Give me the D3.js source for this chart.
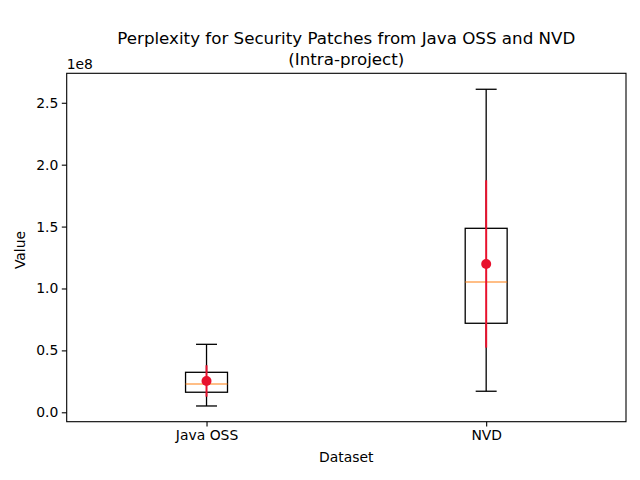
<!DOCTYPE html>
<html>
<head>
<meta charset="utf-8">
<script src="https://cdn.jsdelivr.net/npm/d3@7"></script>
<style>
  body { margin: 0; background: #fff; }
  svg { font-family: "DejaVu Sans", sans-serif; }
</style>
</head>
<body>
<svg id="chart" width="640" height="480"></svg>
<script>
// values in units of 1e8
const categories = ['Java OSS', 'NVD'];
const whiskerLow = [0.051, 0.170];
const q1 = [0.162, 0.719];
const median = [0.229, 1.052];
const q3 = [0.323, 1.486];
const whiskerHigh = [0.549, 2.609];
const means = [0.253, 1.198];
const errors = [0.127, 0.676];
const yTicks = [0.0, 0.5, 1.0, 1.5, 2.0, 2.5];

const margin = { left: 66.7, right: 626, top: 73.3, bottom: 421.7 };
const svg = d3.select('#chart');

const x = d3.scaleLinear().domain([0.5, 2.5]).range([margin.left, margin.right]);
const y = d3.scaleLinear().domain([-0.076, 2.738]).range([margin.bottom, margin.top]);

const boxW = x(0.15) - x(0);
const capW = x(0.075) - x(0);

// axes
const yAxis = svg.append('g')
    .attr('transform', `translate(${margin.left},0)`)
    .call(d3.axisLeft(y).tickValues(yTicks).tickFormat(d3.format('.1f')).tickSize(4.9).tickPadding(3.5));
const xAxis = svg.append('g')
    .attr('transform', `translate(0,${margin.bottom})`)
    .call(d3.axisBottom(x).tickValues([1, 2]).tickFormat((d, i) => categories[i]).tickSize(4.9).tickPadding(3.5));

[xAxis, yAxis].forEach(a => {
    a.select('.domain').remove();
    a.selectAll('text').attr('font-size', '13.9px').attr('fill', '#000')
        .attr('font-family', '"DejaVu Sans", sans-serif');
    a.selectAll('line').attr('stroke', '#000').attr('stroke-width', 1.1);
});

// frame
svg.append('rect')
    .attr('x', margin.left).attr('y', margin.top)
    .attr('width', margin.right - margin.left)
    .attr('height', margin.bottom - margin.top)
    .attr('fill', 'none').attr('stroke', '#000').attr('stroke-width', 1.1);

// boxes
const data = categories.map((c, i) => ({
    pos: i + 1, lo: whiskerLow[i], q1: q1[i], med: median[i], q3: q3[i],
    hi: whiskerHigh[i], mean: means[i], err: errors[i]
}));

const g = svg.append('g');
data.forEach(d => {
    const cx = x(d.pos);
    g.append('line').attr('x1', cx).attr('x2', cx).attr('y1', y(d.q1)).attr('y2', y(d.lo))
        .attr('stroke', '#000').attr('stroke-width', 1.3);
    g.append('line').attr('x1', cx).attr('x2', cx).attr('y1', y(d.q3)).attr('y2', y(d.hi))
        .attr('stroke', '#000').attr('stroke-width', 1.3);
    [d.lo, d.hi].forEach(v => {
        g.append('line').attr('x1', cx - capW / 2).attr('x2', cx + capW / 2)
            .attr('y1', y(v)).attr('y2', y(v))
            .attr('stroke', '#000').attr('stroke-width', 1.3);
    });
    g.append('rect')
        .attr('x', cx - boxW / 2).attr('y', y(d.q3))
        .attr('width', boxW).attr('height', y(d.q1) - y(d.q3))
        .attr('fill', 'none').attr('stroke', '#000').attr('stroke-width', 1.3);
    g.append('line').attr('x1', cx - boxW / 2).attr('x2', cx + boxW / 2)
        .attr('y1', y(d.med)).attr('y2', y(d.med))
        .attr('stroke', '#ff7f0e').attr('stroke-width', 1.1);
    // mean +/- error
    g.append('line').attr('x1', cx).attr('x2', cx)
        .attr('y1', y(d.mean - d.err)).attr('y2', y(d.mean + d.err))
        .attr('stroke', '#e8112d').attr('stroke-width', 2);
    g.append('circle').attr('cx', cx).attr('cy', y(d.mean)).attr('r', 5)
        .attr('fill', '#e8112d');
});

// texts
svg.append('text').attr('x', 346.3).attr('y', 43.5).attr('text-anchor', 'middle')
    .attr('font-size', '16.7px').text('Perplexity for Security Patches from Java OSS and NVD');
svg.append('text').attr('x', 346.3).attr('y', 65).attr('text-anchor', 'middle')
    .attr('font-size', '16.7px').text('(Intra-project)');
svg.append('text').attr('x', 346.3).attr('y', 461.5).attr('text-anchor', 'middle')
    .attr('font-size', '13.9px').text('Dataset');
svg.append('text').attr('transform', 'translate(25,250) rotate(-90)').attr('text-anchor', 'middle')
    .attr('font-size', '13.9px').text('Value');
svg.append('text').attr('x', 66.7).attr('y', 69).attr('font-size', '13.9px').text('1e8');
</script>
</body>
</html>
